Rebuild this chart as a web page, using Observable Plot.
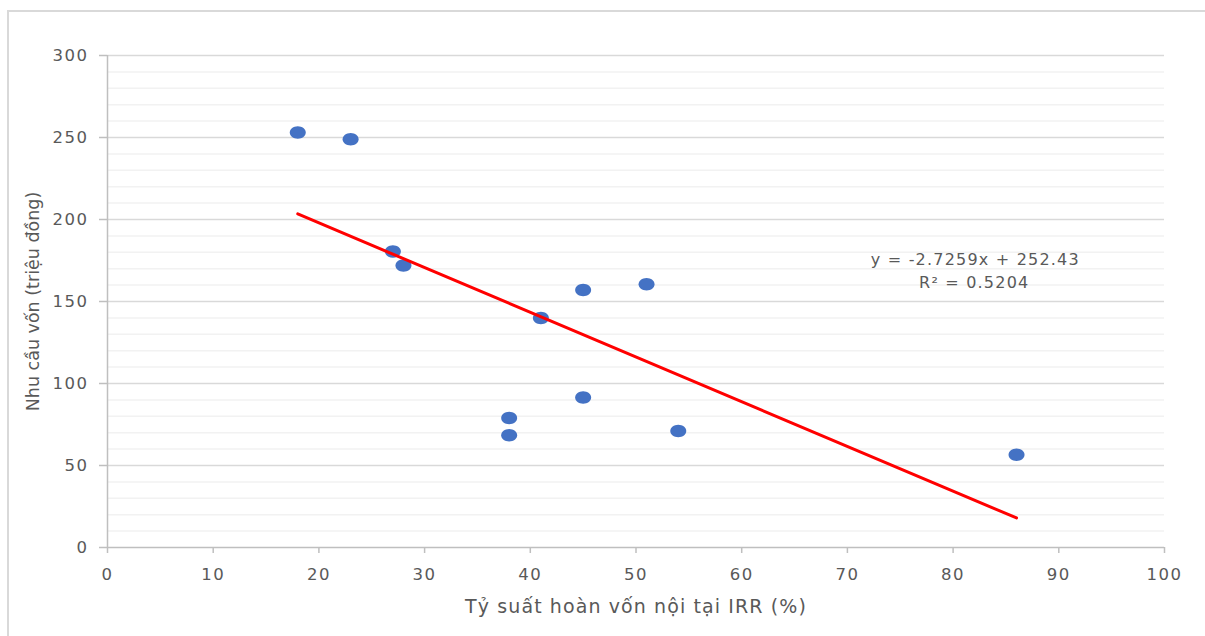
<!DOCTYPE html>
<html>
<head>
<meta charset="utf-8">
<script src="https://cdn.jsdelivr.net/npm/d3@7"></script>
<script src="https://cdn.jsdelivr.net/npm/@observablehq/plot@0.6"></script>
<style>
  html, body { margin: 0; padding: 0; background: #fff; overflow: hidden; }
  #wrap { position: relative; width: 1205px; height: 636px; overflow: hidden; }
  #frame { position: absolute; left: 7px; top: 10px; width: 1220px; height: 660px; border: 2px solid #D9D9D9; box-sizing: border-box; }
  #chart { position: absolute; left: 0; top: 0; }
</style>
</head>
<body>
<div id="wrap"><div id="frame"></div><div id="chart"></div></div>
<script>
// Data
const irr = [18, 23, 27, 28, 41, 45, 51, 45, 38, 38, 54, 86];
const capital = [253, 249, 180.5, 172, 140, 157, 160.5, 91.5, 79, 68.5, 71, 56.5];
const trendX = [18, 86];
const trendY = [203.4, 18.0];
const xTicks = [0, 10, 20, 30, 40, 50, 60, 70, 80, 90, 100];
const yTicks = [0, 50, 100, 150, 200, 250, 300];
const yMinor = [10, 20, 30, 40, 60, 70, 80, 90, 110, 120, 130, 140, 160, 170, 180, 190, 210, 220, 230, 240, 260, 270, 280, 290];
const equationText = "y = -2.7259x + 252.43";
const r2Text = "R² = 0.5204";
const xLabel = "Tỷ suất hoàn vốn nội tại IRR (%)";
const yLabel = "Nhu cầu vốn (triệu đồng)";

const points = irr.map((x, i) => ({x, y: capital[i]}));
const trend = trendX.map((x, i) => ({x, y: trendY[i]}));

// Ellipse symbol (markers are slightly wider than tall)
const ellipse = {
  draw(ctx, size) {
    const rx = Math.sqrt(size / Math.PI);
    const ry = rx * 0.78;
    const k = 0.5523;
    ctx.moveTo(rx, 0);
    ctx.bezierCurveTo(rx, ry * k, rx * k, ry, 0, ry);
    ctx.bezierCurveTo(-rx * k, ry, -rx, ry * k, -rx, 0);
    ctx.bezierCurveTo(-rx, -ry * k, -rx * k, -ry, 0, -ry);
    ctx.bezierCurveTo(rx * k, -ry, rx, -ry * k, rx, 0);
    ctx.closePath();
  }
};

const txt = "#595959";
const chart = Plot.plot({
  width: 1205,
  height: 636,
  marginLeft: 107,
  marginRight: 41,
  marginTop: 55,
  marginBottom: 89,
  style: {fontFamily: "DejaVu Sans", fontSize: "16.5px", color: txt, background: "transparent", overflow: "visible"},
  x: {domain: [0, 100]},
  y: {domain: [0, 300]},
  marks: [
    Plot.ruleY(yMinor, {stroke: "#F2F2F2", strokeWidth: 1.5}),
    Plot.ruleY(yTicks.filter(d => d > 0), {stroke: "#D9D9D9", strokeWidth: 1.5}),
    Plot.ruleY([0], {stroke: "#BFBFBF", strokeWidth: 1.5}),
    Plot.ruleX([0], {stroke: "#BFBFBF", strokeWidth: 1.5}),
    Plot.axisX(xTicks, {tickSize: 6, tickPadding: 15, stroke: "#BFBFBF", strokeWidth: 1.5, fill: txt, fontSize: 16.5,
      label: null}),
    Plot.axisY(yTicks, {tickSize: 8, tickPadding: 11, stroke: "#BFBFBF", strokeWidth: 1.5, fill: txt, fontSize: 16.5,
      label: null}),
    Plot.text([xLabel], {x: 50, y: 0, dy: 59, text: d => d, fill: txt, fontSize: 19, lineAnchor: "middle"}),
    Plot.text([yLabel], {frameAnchor: "left", dx: -74, rotate: -90, textAnchor: "middle", text: d => d, fill: txt, fontSize: 17.5}),
    Plot.dot(points, {x: "x", y: "y", r: 8, symbol: ellipse, fill: "#4472C4", stroke: "none"}),
    Plot.line(trend, {x: "x", y: "y", stroke: "#FF0000", strokeWidth: 3}),
    Plot.text([equationText], {x: 82.1, y: 175.5, text: d => d, fill: txt, fontSize: 16}),
    Plot.text([r2Text], {x: 82.0, y: 161.5, text: d => d, fill: txt, fontSize: 16})
  ]
});
// Widen horizontal text slightly (reference glyphs are broad)
chart.querySelectorAll("g[aria-label='x-axis tick label'] text, g[aria-label='y-axis tick label'] text").forEach(t => t.setAttribute("letter-spacing", "1.5"));
chart.querySelectorAll("g[aria-label='text'] text").forEach(t => {
  const s = t.textContent;
  if (s === xLabel) t.setAttribute("letter-spacing", "1.1");
  if (s === equationText || s === r2Text) t.setAttribute("letter-spacing", "1.2");
});
document.getElementById("chart").appendChild(chart);
</script>
</body>
</html>
